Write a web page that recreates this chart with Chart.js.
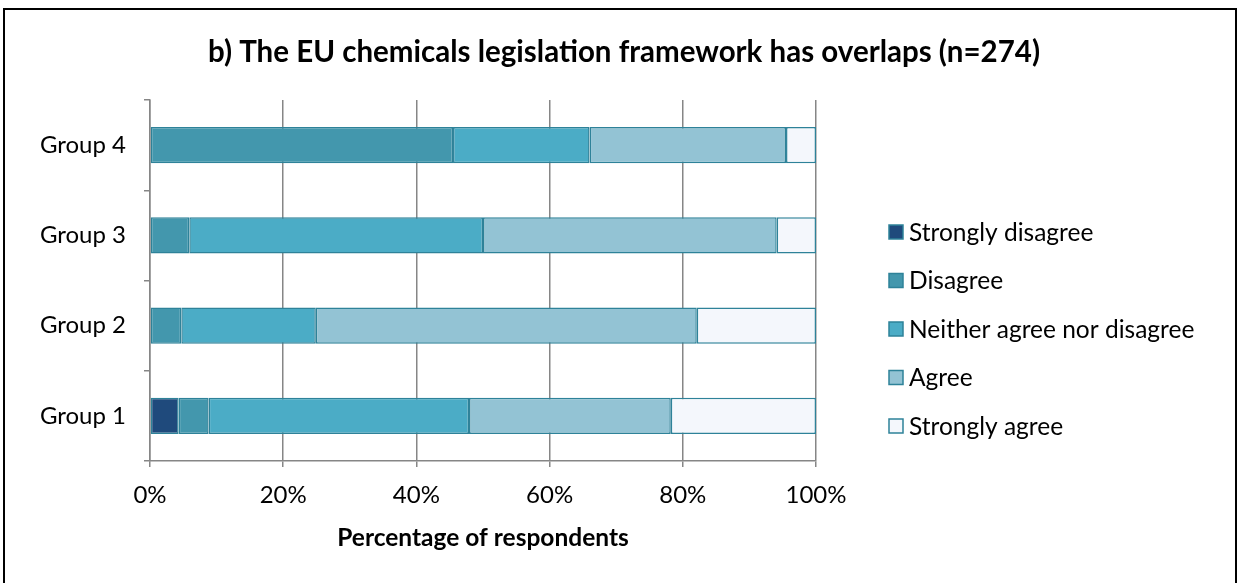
<!DOCTYPE html>
<html>
<head>
<meta charset="utf-8">
<script src="https://cdn.jsdelivr.net/npm/chart.js@4"></script>
<style>
  html, body { margin: 0; padding: 0; background: #fff; }
  #wrap { position: relative; width: 1240px; height: 583px; }
  canvas { display: block; }
</style>
</head>
<body>
<div id="wrap"><canvas id="c" width="1240" height="583"></canvas></div>
<script>
// Survey answers per respondent group, percent of respondents
const groups = ['Group 4', 'Group 3', 'Group 2', 'Group 1'];
const stronglyDisagree = [0, 0, 0, 4.3];
const disagree = [45.5, 5.9, 4.7, 4.5];
const neither = [20.5, 44.1, 20.2, 39.1];
const agree = [29.5, 44.1, 57.2, 30.3];
const stronglyAgree = [4.5, 5.9, 17.9, 21.8];
const xTicks = [0, 20, 40, 60, 80, 100];

const seriesNames = ['Strongly disagree', 'Disagree', 'Neither agree nor disagree', 'Agree', 'Strongly agree'];
const seriesColors = ['#1F4A7C', '#4397AD', '#4BACC6', '#93C3D4', '#F4F7FC'];
const edgeColor = '#2E8299';
const FONT = 'Lato, "Open Sans", sans-serif';

const datasets = [stronglyDisagree, disagree, neither, agree, stronglyAgree].map((vals, i) => ({
  label: seriesNames[i],
  data: vals,
  backgroundColor: seriesColors[i],
  borderColor: edgeColor,
  borderWidth: ctx => (ctx.raw ? 1.5 : 0),
  borderSkipped: false,
  barPercentage: 0.8,
  categoryPercentage: 0.5
}));

// Frame, heading, axis title and legend drawn on the same canvas
const decorations = {
  id: 'decorations',
  afterDraw(chart) {
    const c = chart.ctx;
    const area = chart.chartArea;
    c.save();
    // outer frame
    c.strokeStyle = '#000';
    c.lineWidth = 2;
    c.beginPath();
    c.moveTo(4, 600); c.lineTo(4, 9); c.lineTo(1236, 9); c.lineTo(1236, 600);
    c.stroke();

    c.fillStyle = '#000';
    c.textAlign = 'center';
    c.textBaseline = 'middle';
    c.font = 'bold 29.5px ' + FONT;
    c.fillText('b) The EU chemicals legislation framework has overlaps (n=274)', 624, 52);

    c.font = 'bold 24.5px ' + FONT;
    c.fillText('Percentage of respondents', (area.left + area.right) / 2, 538);

    // legend
    c.textAlign = 'left';
    c.font = '24.5px ' + FONT;
    const y0 = 232, step = 48.5;
    chart.data.datasets.forEach((ds, i) => {
      const y = y0 + i * step;
      c.fillStyle = ds.backgroundColor;
      c.fillRect(889, y - 7, 14, 14);
      c.strokeStyle = edgeColor;
      c.lineWidth = 1.5;
      c.strokeRect(889, y - 7, 14, 14);
      c.fillStyle = '#000';
      c.fillText(ds.label, 909, y + 1);
    });
    c.restore();
  }
};

new Chart(document.getElementById('c'), {
  type: 'bar',
  data: { labels: groups, datasets },
  plugins: [decorations],
  options: {
    indexAxis: 'y',
    responsive: false,
    animation: false,
    devicePixelRatio: 1,
    layout: { padding: { left: 0, top: 100, right: 424, bottom: 0 } },
    plugins: {
      legend: { display: false },
      tooltip: { enabled: false },
      title: { display: false }
    },
    scales: {
      x: {
        stacked: true,
        min: 0,
        max: 100,
        afterFit: s => { s.height = 122; },
        afterBuildTicks: s => { s.ticks = xTicks.map(v => ({ value: v })); },
        grid: { color: '#868686', lineWidth: 1.5, tickLength: 6, drawTicks: true },
        border: { color: '#868686', width: 1.5 },
        ticks: {
          color: '#000',
          font: { family: FONT, size: 24 },
          padding: 14,
          callback: v => v + '%'
        }
      },
      y: {
        stacked: true,
        afterFit: s => { s.width = 150; },
        grid: { offset: true, drawOnChartArea: false, color: '#868686', lineWidth: 1.5, tickLength: 6 },
        border: { color: '#868686', width: 1.5 },
        ticks: {
          color: '#000',
          font: { family: FONT, size: 24 },
          padding: 18
        }
      }
    }
  }
});
</script>
</body>
</html>
